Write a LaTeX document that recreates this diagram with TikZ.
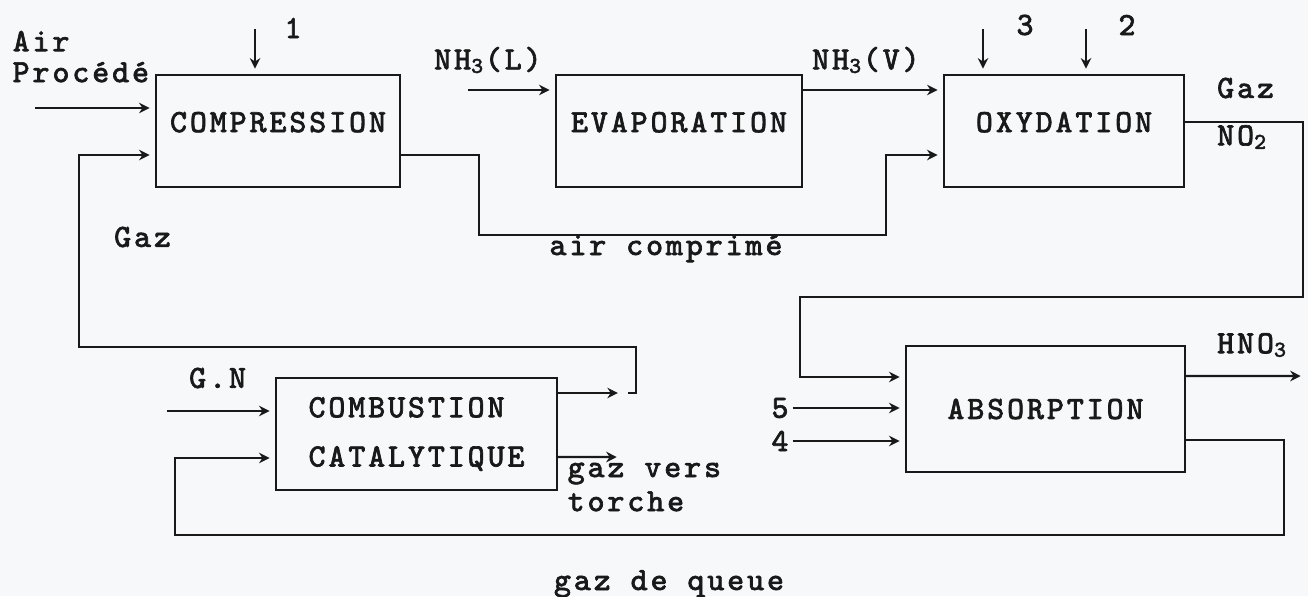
\documentclass[tikz,border=0pt]{standalone}
\usepackage{fontspec}
\usepackage{tikz}
\usetikzlibrary{arrows.meta}
\newfontfamily\printfont[FakeBold=2, LetterSpace=9]{Latin Modern Mono}
\definecolor{paper}{RGB}{246,248,250}
\definecolor{ink}{RGB}{25,25,25}

\begin{document}
\begin{tikzpicture}[x=0.01cm, y=-0.01cm, ink,
  every node/.style={font=\printfont\fontsize{9.2}{11}\selectfont},
  procbox/.style={draw, line width=0.6pt, inner sep=2pt, minimum width=#1, minimum height=1.12cm},
  flow/.style={line width=0.6pt, -{Stealth[length=3pt,width=3pt]}, shorten >=1.5pt},
  tag/.style={inner sep=1pt}]
  % page, pixel grid of the scan (y downwards)
  \fill[paper] (0,0) rectangle (1308,596);
  \useasboundingbox (0,0) rectangle (1308,596);

  % Process units
  \node[procbox=2.44cm, text depth=0.18cm] (comp) at (278,131) {COMPRESSION};
  \node[procbox=2.46cm, text depth=0.18cm] (evap) at (679,131) {EVAPORATION};
  \node[procbox=2.40cm, text depth=0.18cm] (oxy) at (1064,131) {OXYDATION};
  \node[procbox=2.81cm, align=left] (comb) at (416.5,434) {COMBUSTION\\[3pt]CATALYTIQUE};
  \node[procbox=2.79cm, minimum height=1.26cm] (absb) at (1045.5,409) {ABSORPTION};

  % Free ends of the feed lines
  \coordinate (airsrc) at (35,108);
  \coordinate (nh3src) at (468,90);
  \coordinate (gnsrc) at (167,411);
  \coordinate (src1) at (255,29);
  \coordinate (src3) at (983,29);
  \coordinate (src2) at (1086,29);
  \coordinate (hno3out) at (1306,376);
  \coordinate (torchout) at (622,457);

  % Feeds into compression
  \node[tag, anchor=south west, inner sep=0pt, align=left, font=\printfont\fontsize{9.2}{8.8}\selectfont] (airlbl) at (12,83) {Air\\Procédé};
  \draw[flow] (airsrc) -- (airsrc -| comp.west);
  \draw[flow] (src1) -- (src1 |- comp.north);
  \node[tag] (lbl1) at (293,28) {1};

  % Ammonia line
  \draw[flow] (nh3src) -- (nh3src -| evap.west);
  \node[tag, anchor=west] (nh3l) at (430,60) {NH\textsubscript{3}(L)};
  \draw[flow] ([yshift=0.41cm]evap.east) -- ([yshift=0.41cm]oxy.west);
  \node[tag, anchor=west] (nh3v) at (808,60) {NH\textsubscript{3}(V)};

  % Compressed air to oxydation
  \draw[flow] ([yshift=-0.24cm]comp.east) -| ++(78,80) -| ([xshift=-0.57cm,yshift=-0.24cm]oxy.west) -- ([yshift=-0.24cm]oxy.west);
  \node[tag, anchor=base] (airc) at (666,255) {air comprimé};

  % Feeds into oxydation
  \draw[flow] (src3) -- (src3 |- oxy.north);
  \node[tag] (lbl3) at (1025,25) {3};
  \draw[flow] (src2) -- (src2 |- oxy.north);
  \node[tag] (lbl2) at (1127,25) {2};

  % NO2 gas to absorption
  \draw[flow] ([yshift=0.09cm]oxy.east) -| ++(118,175) -| ([xshift=-1.05cm,yshift=0.32cm]absb.west) -- ([yshift=0.32cm]absb.west);
  \node[tag, anchor=west] (gazno) at (1213,88) {Gaz};
  \node[tag, anchor=west] (no2) at (1213,137) {NO\textsubscript{2}};

  % Water feeds 5 and 4
  \node[tag] (in5) at (780,408) {5};
  \draw[flow] (in5.east) -- (in5 -| absb.west);
  \node[tag] (in4) at (780,441) {4};
  \draw[flow] (in4.east) -- (in4 -| absb.west);

  % Product
  \draw[flow] ([yshift=0.33cm]absb.east) -- (hno3out);
  \node[tag, anchor=west] (hno3) at (1213,345) {HNO\textsubscript{3}};

  % Tail gas back to combustion
  \draw[flow] ([yshift=-0.31cm]absb.east) -| ++(98,95) -| ([xshift=-1.00cm,yshift=-0.24cm]comb.west) -- ([yshift=-0.24cm]comb.west);
  \node[tag, anchor=base] (queue) at (669,590) {gaz de queue};

  % Natural gas
  \draw[flow] (gnsrc) -- (gnsrc -| comb.west);
  \node[tag, anchor=west] (gn) at (185,378) {G.N};

  % Combustion outputs
  \draw[flow] ([yshift=0.41cm]comb.east) -- ++(65,0);
  \draw[flow] ([xshift=0.70cm,yshift=0.41cm]comb.east) -| ++(8,-46) -| ([xshift=-0.76cm,yshift=-0.24cm]comp.west) -- ([yshift=-0.24cm]comp.west);
  \node[tag, anchor=west] (gazret) at (110,237) {Gaz};
  \draw[flow] ([yshift=-0.23cm]comb.east) -- (torchout);
  \node[tag, anchor=south west, inner sep=0pt, align=left, font=\printfont\fontsize{9.2}{9.7}\selectfont] (torche) at (567,512) {gaz vers\\torche};

\end{tikzpicture}
\end{document}
